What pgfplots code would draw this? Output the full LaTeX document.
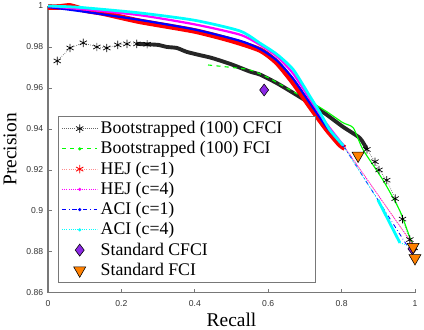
\documentclass[border=0pt]{standalone}
\usepackage{fontspec}
\setmainfont{Liberation Serif}
\setsansfont{Liberation Sans}
\usepackage{pgfplots}
\pgfplotsset{compat=1.18}
\definecolor{cfcipurple}{RGB}{140,40,230}
\definecolor{fciorange}{RGB}{255,128,0}
\definecolor{axgray}{RGB}{120,120,120}
\definecolor{mycyan}{RGB}{0,255,255}
\definecolor{mymagenta}{RGB}{255,0,255}
\definecolor{myblue}{RGB}{0,0,255}
\definecolor{myred}{RGB}{255,0,0}
\definecolor{mygreen}{RGB}{0,255,0}
\newcommand{\legfont}{\fontsize{12.8}{14}\selectfont}
\begin{document}
\begin{tikzpicture}
\begin{axis}[
  scale only axis,
  width=264.2pt, height=206.6pt,
  xmin=0, xmax=1, ymin=0.86, ymax=1,
  xtick={0,0.2,0.4,0.6,0.8,1},
  ytick={0.86,0.88,0.9,0.92,0.94,0.96,0.98,1},
  axis x line*=bottom, axis y line*=left,
  axis line style={axgray, line width=0.8pt},
  tick style={axgray, line width=0.6pt},
  major tick length=2.5pt,
  tick align=inside,
  /pgf/number format/assume math mode=true,
  ticklabel style={font=\sffamily\fontsize{6.2}{7}\selectfont, text=black!80},
  xticklabel style={yshift=-2pt},
  xlabel={\fontsize{14}{16}\selectfont Recall}, ylabel={\fontsize{14}{16}\selectfont Precision},
  xlabel style={at={(axis description cs:0.5,-0.117)}, anchor=base},
  ylabel style={at={(axis description cs:-0.1035,0.5)}, anchor=center},
  clip=false,
  legend cell align=left,
  legend style={at={(axis description cs:0.028,0.035)}, anchor=south west,
    draw=axgray, line width=0.6pt,
    inner xsep=2pt, inner ysep=1.5pt, row sep=0.2pt},
  legend image code/.code={\draw[mark repeat=2,mark phase=2] plot coordinates {(0cm,0cm)(0.45cm,0cm)(0.9cm,0cm)};},
]
% legend samples
\addlegendimage{black!60, densely dotted, line width=0.5pt, mark=asterisk, mark size=3pt, mark options={solid, black}}
\addlegendentry{\legfont Bootstrapped (100) CFCI\rule{20pt}{0pt}}
\addlegendimage{mygreen, dashed, line width=0.6pt, mark=*, mark size=0.8pt, mark options={solid}}
\addlegendentry{\legfont Bootstrapped (100) FCI}
\addlegendimage{myred!45, densely dotted, line width=0.6pt, mark=asterisk, mark size=3pt, mark options={solid, myred}}
\addlegendentry{\legfont HEJ (c=1)}
\addlegendimage{mymagenta, densely dotted, line width=0.6pt, mark=*, mark size=0.8pt, mark options={solid}}
\addlegendentry{\legfont HEJ (c=4)}
\addlegendimage{myblue, dash dot, line width=0.6pt, mark=*, mark size=0.8pt, mark options={solid}}
\addlegendentry{\legfont ACI (c=1)}
\addlegendimage{mycyan, densely dotted, line width=0.6pt, mark=*, mark size=0.8pt, mark options={solid}}
\addlegendentry{\legfont ACI (c=4)}
\addlegendimage{only marks, mark=diamond*, mark size=4.3pt, mark options={fill=cfcipurple, draw=black, line width=0.4pt}}
\addlegendentry{\legfont Standard CFCI}
\addlegendimage{only marks, mark=triangle*, mark size=5pt, mark options={rotate=180, fill=fciorange, draw=black, line width=0.4pt}}
\addlegendentry{\legfont Standard FCI}

% Bootstrapped (100) CFCI: sparse start
\addplot[forget plot, black!60, densely dotted, line width=0.5pt, mark=asterisk, mark size=3pt, mark options={solid, black}] coordinates {
 (0.025,0.9732) (0.06,0.9795) (0.096,0.982) (0.133,0.980) (0.16,0.9795)
 (0.19,0.981) (0.215,0.9815) (0.242,0.9815) (0.27,0.9813)
};
% dense band
\addplot[forget plot, black!85, line width=2.8pt, smooth, tension=0.4] coordinates {
 (0.242,0.9815) (0.27,0.9813) (0.3,0.981) (0.324,0.980) (0.351,0.9795)
 (0.378,0.9776) (0.414,0.976) (0.447,0.9746) (0.5,0.9715) (0.55,0.968)
 (0.578,0.9665) (0.623,0.9624) (0.668,0.9576) (0.714,0.9525) (0.759,0.947)
 (0.804,0.941) (0.85,0.9355) (0.869,0.930)
};
% sparse end
\addplot[forget plot, black!60, densely dotted, line width=0.5pt, mark=asterisk, mark size=3pt, mark options={solid, black}] coordinates {
 (0.869,0.930) (0.891,0.924) (0.902,0.920) (0.923,0.915) (0.946,0.906)
 (0.966,0.896) (0.986,0.886) (0.998,0.882)
};

% Bootstrapped (100) FCI
\addplot[forget plot, mygreen, dashed, line width=0.8pt, smooth] coordinates {
 (0.436,0.9712) (0.5,0.9700) (0.55,0.9688) (0.6,0.9650) (0.65,0.9600) (0.70,0.9550)
};
\addplot[forget plot, mygreen, line width=0.8pt, smooth, tension=0.4] coordinates {
 (0.70,0.9550) (0.759,0.9485) (0.804,0.943) (0.832,0.9405) (0.858,0.930)
 (0.913,0.915) (0.959,0.900) (0.986,0.887) (0.995,0.883)
};

% HEJ (c=1)
\addplot[forget plot, myred, line width=4pt, smooth, tension=0.4] coordinates {
 (0,0.9995) (0.03,0.9995) (0.06,1.000) (0.1,0.998) (0.15,0.9965) (0.25,0.9925)
 (0.4,0.9878) (0.5,0.9832) (0.578,0.9785) (0.623,0.9725) (0.668,0.9627)
 (0.714,0.9510) (0.759,0.9400) (0.796,0.9322) (0.809,0.9307)
};
\addplot[forget plot, myred!60, densely dotted, line width=0.6pt] coordinates {
 (0.809,0.9307) (0.995,0.8835)
};

% ACI (c=1)
\addplot[forget plot, myblue, line width=1.6pt, smooth, tension=0.4] coordinates {
 (0,0.9995) (0.087,0.9975) (0.25,0.9932) (0.4,0.9885) (0.523,0.983)
 (0.578,0.979) (0.623,0.9735) (0.668,0.9645) (0.714,0.9525) (0.759,0.941)
 (0.806,0.9315)
};
\addplot[forget plot, myblue, dash dot, line width=0.6pt] coordinates {
 (0.806,0.9315) (0.981,0.8824)
};

% HEJ (c=4)
\addplot[forget plot, mymagenta, line width=1.6pt, smooth, tension=0.4] coordinates {
 (0,1.0) (0.087,0.9985) (0.25,0.9955) (0.4,0.991) (0.523,0.986)
 (0.578,0.981) (0.623,0.9755) (0.668,0.967) (0.714,0.9545) (0.759,0.9425)
 (0.805,0.932)
};
\addplot[forget plot, mymagenta, densely dotted, line width=0.6pt] coordinates {
 (0.805,0.932) (0.99,0.8845)
};

% ACI (c=4)
\addplot[forget plot, mycyan, line width=2pt, smooth, tension=0.4] coordinates {
 (0,1.000) (0.087,0.9993) (0.25,0.9966) (0.4,0.993) (0.523,0.9878)
 (0.578,0.9818) (0.623,0.9765) (0.668,0.969) (0.714,0.9558) (0.741,0.948)
 (0.768,0.9395) (0.804,0.932)
};
\addplot[forget plot, mycyan, densely dotted, line width=0.6pt] coordinates {
 (0.804,0.932) (0.899,0.9054)
};
\addplot[forget plot, mycyan, line width=2pt] coordinates {
 (0.899,0.9054) (0.959,0.8844)
};
\addplot[forget plot, mycyan, densely dotted, line width=0.6pt] coordinates {
 (0.959,0.8844) (0.985,0.883)
};

% Standard CFCI
\addplot[forget plot, only marks, mark=diamond*, mark size=4.3pt, mark options={fill=cfcipurple, draw=black, line width=0.4pt}] coordinates {
 (0.589,0.959) (0.993,0.8815)
};
% Standard FCI
\addplot[forget plot, only marks, mark=triangle*, mark size=5pt, mark options={rotate=180, fill=fciorange, draw=black, line width=0.4pt}] coordinates {
 (0.845,0.927) (0.995,0.8825) (1.0,0.877)
};
\end{axis}
\pgfresetboundingbox
\path ([shift={(-34.6pt,-26.6pt)}]current axis.south west) rectangle ([shift={(6.5pt,4.3pt)}]current axis.north east);
\end{tikzpicture}
\end{document}
